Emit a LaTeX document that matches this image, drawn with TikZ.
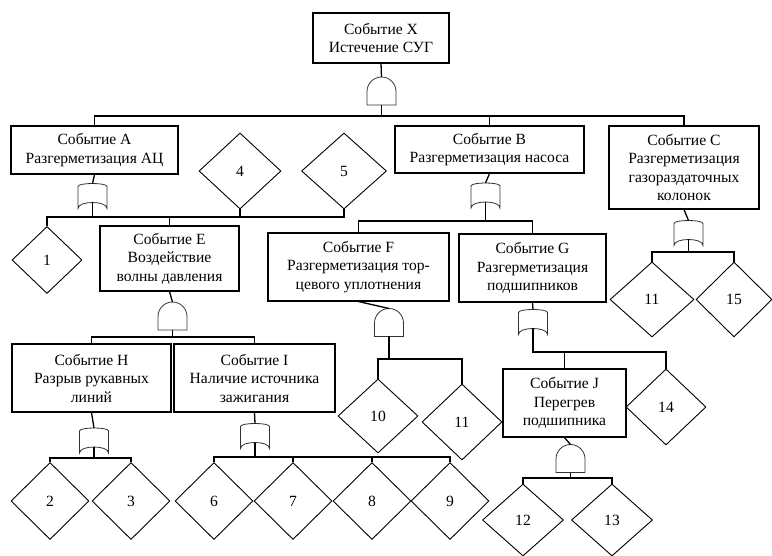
\documentclass[tikz,border=0pt]{standalone}
\usepackage{fontspec}
\setmainfont{Liberation Serif}
\usetikzlibrary{shapes.geometric}

\begin{document}
\begin{tikzpicture}[x=1pt, y=-1pt, font=\fontsize{15.6}{18.5}\selectfont]
\tikzset{event/.style={draw, line width=1.1pt, rectangle, align=center, inner sep=0pt}}
\tikzset{leaf/.style={draw, line width=0.9pt, diamond, inner sep=0pt, minimum width=78pt, minimum height=77pt}}
\tikzset{andgate/.style={rectangle, inner sep=0pt, outer sep=0pt, minimum width=29pt, minimum height=28pt}}
\tikzset{orgate/.style={rectangle, inner sep=0pt, outer sep=0pt, minimum width=29pt, minimum height=25pt}}
\tikzset{link/.style={draw, line width=1.3pt}}
\tikzset{gateline/.style={draw, line width=0.8pt, black!80}}
\useasboundingbox (0,0) rectangle (772,556);

\node[event, minimum width=136pt, minimum height=50pt] (x) at (381,38) {Событие X\\Истечение СУГ};
\node[event, minimum width=167pt, minimum height=48pt] (a) at (94.5,150) {Событие А\\Разгерметизация АЦ};
\node[event, minimum width=189pt, minimum height=47pt] (b) at (489.5,149.5) {Событие В\\Разгерметизация насоса};
\node[event, minimum width=150pt, minimum height=83pt] (c) at (684,167.5) {Событие С\\Разгерметизация\\газораздаточных\\колонок};
\node[event, minimum width=139pt, minimum height=65pt] (e) at (169.5,258.5) {Событие Е\\Воздействие\\волны давления};
\node[event, minimum width=181pt, minimum height=68pt] (f) at (358.5,267) {Событие F\\Разгерметизация тор-\\цевого уплотнения};
\node[event, minimum width=147pt, minimum height=68pt] (g) at (532.5,268) {Событие G\\Разгерметизация\\подшипников};
\node[event, minimum width=159pt, minimum height=68pt] (h) at (91.5,378) {Событие Н\\Разрыв рукавных\\линий};
\node[event, minimum width=161pt, minimum height=68pt] (i) at (254.5,378) {Событие I\\Наличие источника\\зажигания};
\node[event, minimum width=123pt, minimum height=68pt] (j) at (564.5,403) {Событие J\\Перегрев\\подшипника};

\node[andgate] (gx) at (381.5,91) {};
\node[orgate] (ga) at (92.5,196) {};
\node[orgate] (gb) at (485.5,195.5) {};
\node[orgate] (gc) at (688.5,233) {};
\node[andgate] (ge) at (172.5,316) {};
\node[andgate] (gf) at (389,322.5) {};
\node[orgate] (gg) at (533,322) {};
\node[orgate] (gh) at (94,440.5) {};
\node[orgate] (gi) at (255,436) {};
\node[andgate] (gj) at (570.5,458.5) {};

\node[leaf, minimum width=70pt, minimum height=67pt] (d1) at (47,260) {1};
\node[leaf, minimum width=82pt, minimum height=76pt] (d4) at (240,171) {4};
\node[leaf, minimum width=85pt, minimum height=76pt] (d5) at (344,171) {5};
\node[leaf] (d2) at (50,501) {2};
\node[leaf] (d3) at (131,501) {3};
\node[leaf] (d6) at (214,501) {6};
\node[leaf] (d7) at (293,501) {7};
\node[leaf] (d8) at (372,501) {8};
\node[leaf] (d9) at (450,501) {9};
\node[leaf, minimum width=80pt, minimum height=74pt] (d10) at (378,416) {10};
\node[leaf, minimum width=80pt, minimum height=76pt] (d11f) at (462,422) {11};
\node[leaf, minimum width=80pt, minimum height=76pt] (d14) at (666,407) {14};
\node[leaf, minimum width=81pt, minimum height=72pt] (d12) at (523,520) {12};
\node[leaf, minimum width=81pt, minimum height=72pt] (d13) at (612,520) {13};
\node[leaf, minimum width=84pt, minimum height=75pt] (d11c) at (652,299.5) {11};
\node[leaf, minimum width=76pt, minimum height=75pt] (d15) at (734,299.5) {15};

\foreach \g in {gx,ge,gf,gj}
  \draw[gateline] (\g.south west) -- ([yshift=-14.5pt]\g.north west)
    arc[start angle=180, end angle=0, radius=14.5pt] -- (\g.south east) -- cycle;
\foreach \g in {ga,gb,gc,gg,gh,gi}
  \draw[gateline] (\g.south west) -- ([yshift=-3pt]\g.north west)
    .. controls ([yshift=1pt]\g.north west) and ([yshift=1pt]\g.north east) .. ([yshift=-3pt]\g.north east)
    -- (\g.south east)
    .. controls ([yshift=8pt]\g.south east) and ([yshift=8pt]\g.south west) .. (\g.south west) -- cycle;

\coordinate (busx) at (381.5,116);
\coordinate (busa) at (92.5,217);
\coordinate (busb) at (485.5,221);
\coordinate (busc) at (688.5,252);
\coordinate (buse) at (172.5,337);
\coordinate (busf) at (389,359);
\coordinate (busg) at (533,352);
\coordinate (bush) at (94,458);
\coordinate (busi) at (255,457);
\coordinate (busj) at (570.5,478);

\foreach \ev/\g in {x/gx,a/ga,b/gb,c/gc,e/ge,f/gf,g/gg,h/gh,i/gi,j/gj}
  \draw[link] (\ev.south) -- (\g.north);

\draw[link] (gx.south) -- (busx) (a.north) |- (busx) -| (c.north) (b.north) -- (b.north |- busx);
\draw[link] ([yshift=6pt]ga.south) -- (busa) (d1.north) |- (busa) -| (d5.south)
  (e.north) -- (e.north |- busa) (d4.south) -- (d4.south |- busa);
\draw[link] ([yshift=6pt]gb.south) -- (busb) (f.north) |- (busb) -| (g.north);
\draw[link] ([yshift=6pt]gc.south) -- (busc) (d11c.north) |- (busc) -| (d15.north);
\draw[link] (ge.south) -- (buse) (h.north) |- (buse) -| (i.north);
\draw[link] (gf.south) -- (busf) (d10.north) |- (busf) -| (d11f.north);
\draw[link] ([yshift=6pt]gg.south) -- (busg) -| (d14.north) (j.north) -- (j.north |- busg);
\draw[link] ([yshift=6pt]gh.south) -- (bush) (d2.north) |- (bush) -| (d3.north);
\draw[link] ([yshift=6pt]gi.south) -- (busi) (d6.north) |- (busi) -| (d9.north)
  (d7.north) -- (d7.north |- busi) (d8.north) -- (d8.north |- busi);
\draw[link] (gj.south) -- (busj) (d12.north) |- (busj) -| (d13.north);
%\draw[help lines] (0,0) grid[step=50] (772,556);
\end{tikzpicture}
\end{document}
